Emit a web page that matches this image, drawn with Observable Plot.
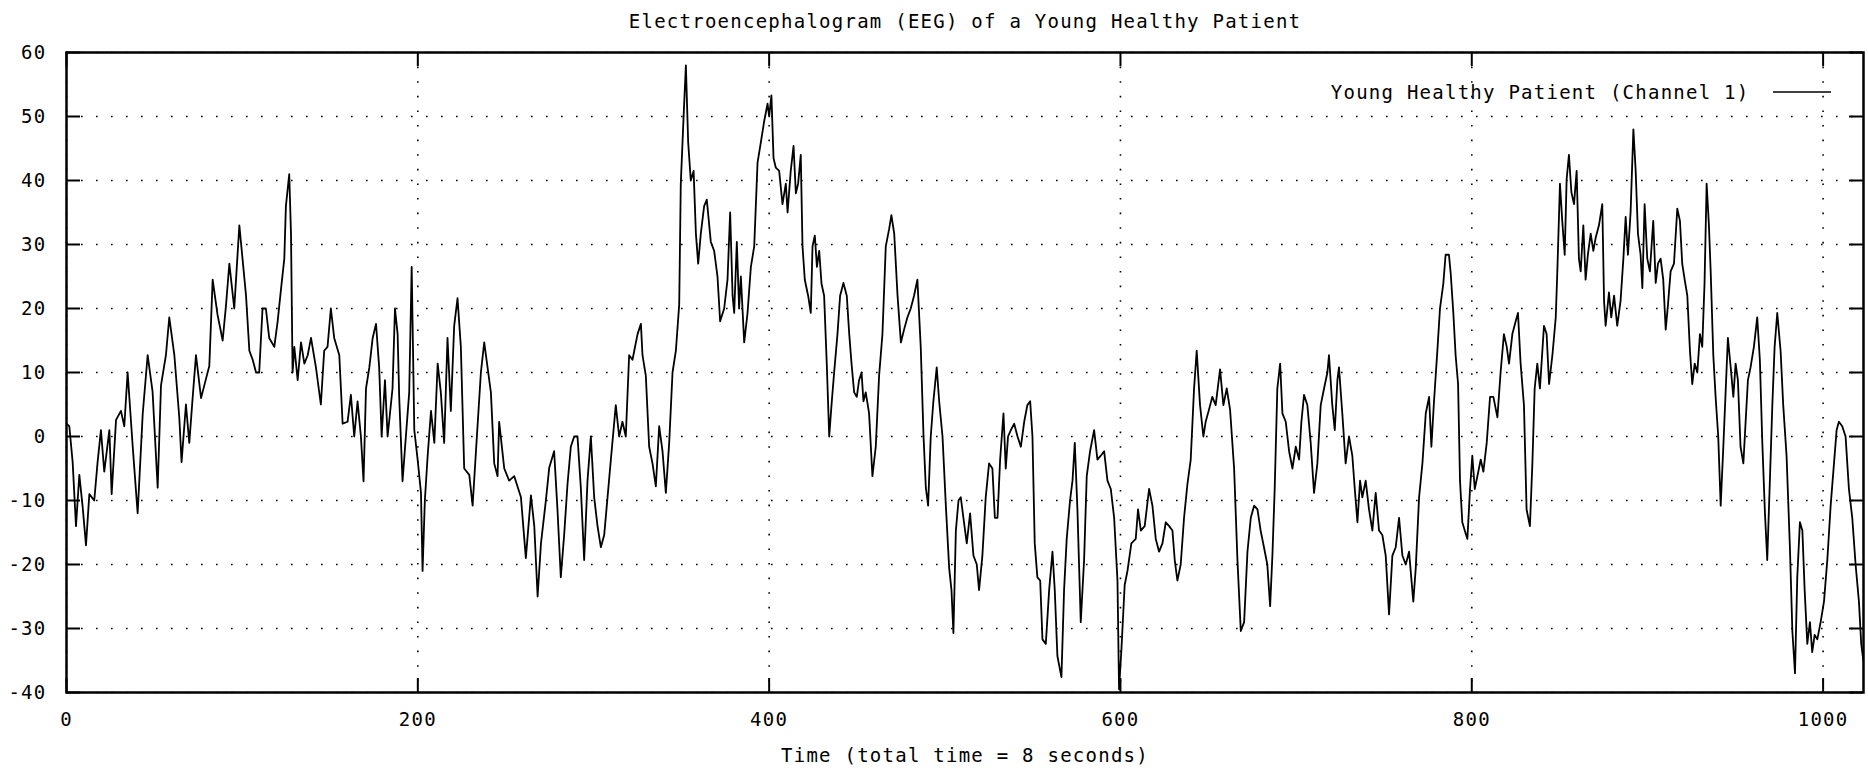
<!DOCTYPE html>
<html>
<head>
<meta charset="utf-8">
<script src="https://cdn.jsdelivr.net/npm/d3@7"></script>
<script src="https://cdn.jsdelivr.net/npm/@observablehq/plot@0.6"></script>
<style>
html, body { margin: 0; padding: 0; background: #ffffff; }
#chart svg { display: block; }
</style>
</head>
<body>
<div id="chart"></div>
<script>
const title = "Electroencephalogram (EEG) of a Young Healthy Patient";
const xLabel = "Time (total time = 8 seconds)";
const seriesName = "Young Healthy Patient (Channel 1)";
const xTicks = [0, 200, 400, 600, 800, 1000];
const yTicks = [-40, -30, -20, -10, 0, 10, 20, 30, 40, 50, 60];

const sampleIndex = [
0,1.6,3.5,5.4,7.3,9.2,11.1,13,15.8,17.7,19.6,21.5,24.4,25.7,28.2,31,32.9,34.8,37.7,40.5,43.4,46.2,49,51.9,53.8,56.6,58.5,61.4,64.2,65.5,68,69.9,71.8,73.7,76.6,79.4,81.3,83.2,86,88.9,90.8,92.7,95.5,98.4,
102.2,104.1,106,107.9,109.7,111.6,113.5,115.4,118.3,120.2,122.1,124,124.9,126.8,127.8,128.7,129.7,131.6,133.5,135.4,137.3,139.2,142,144.8,146.7,148.6,150.5,152.4,155.3,157.2,160,161.9,163.8,165.7,167.6,169.1,170.5,172.4,174.3,176.2,178,179.4,181.3,182.8,185.6,187,188.5,189.4,191.3,193.2,195.1,196.5,198,199.9,201.8,202.7,
204,205.6,207.5,209.4,211.3,213.1,215,216.9,218.8,220.7,222.6,224.5,226.4,229.3,231.2,233.1,235.9,237.8,239.7,241.6,243.5,245.4,246.3,249.2,252,254.9,258.7,261.5,264.4,266.3,268.2,270.1,272.9,274.8,277.6,279.5,281.4,283.3,285.2,287.1,289,290.9,292.8,294.7,296.6,298.5,300.4,302.3,304.2,
306.1,308,309.9,312.7,314.6,316.5,318.4,320.3,322.2,325.1,327,327.9,329.8,331.7,333.6,335.5,337.4,339.3,341.2,343.1,345,346.9,348.8,349.7,351.3,352.6,353.9,355.4,357,358.3,359.6,361.1,363,364.5,366.8,368.7,370.6,372.1,374.4,376.3,377.8,379.2,380.1,381.6,382.9,383.9,385.8,387.7,389.6,391.5,393.4,395.3,397.2,399.1,400,401.3,402.5,403.8,405.7,407.6,409.5,410.5,412.3,413.9,415.2,416.5,418,419,420.3,422.2,423.7,
424.7,426,427.2,428.5,429.8,431.3,432.8,434.2,435.5,437,438.9,440.4,442.3,444.2,445.6,446.9,448.4,449.9,451.2,452.6,453.7,455,456.9,458.8,460.7,462.6,464.5,466.4,468.3,469.6,471.2,473.1,475,476.8,478.7,480.6,482.5,484.4,486.3,487.9,489.2,490.5,492,493.5,495.4,496.8,498.7,500.6,502.5,503.8,504.9,506.3,507.8,509.1,510.6,512.5,514.4,516.3,518.2,519.5,521.4,523.3,525.2,527.1,528.5,530,531.5,533.4,534.7,536,537.6,539.5,541.4,543.3,
545.2,547,548.6,549.9,551.2,552.7,554.3,555.6,557.5,559.4,561.3,562.6,564.1,566.4,567.9,569.4,571.3,572.7,574,575.5,577.4,579.3,580.8,582.7,585,586.9,588.8,590.7,592.6,594.5,596.4,598.3,599.2,600.6,602.4,604,606.2,608.7,610,611.6,613.8,616.3,618.2,620.1,622,623.9,625.8,627.7,629.6,630.9,632.4,634.3,636.2,638.1,640,641.9,643.4,645.3,647.2,648.5,650.4,652.3,654.2,656.7,658.6,660.5,662.4,
664.7,666.6,668.5,670.4,672.3,674.2,676.1,678,679.8,681.7,683.6,685.2,686.5,687.8,689.3,690.9,692.2,694.1,696,697.9,699.8,701.7,703,704.5,706.4,708.3,710.2,712.1,714,715.9,717.8,718.7,720.6,722,723.5,724.4,726.3,728.2,730.1,732,733.4,734.9,736.4,737.7,739.6,741.5,743.4,745.3,747.2,749.1,751,752.9,754.8,756.7,758.6,760.5,762.4,764.3,766.7,768.1,770,771.9,773.8,775.7,777,778.5,780.4,781.9,
783.8,785.1,787,788,789.5,790.8,792.2,793.3,794.6,796,797.5,799,800.3,801.7,803.2,805.1,806.6,808.5,810.4,812.3,814.6,816.4,818.3,819.9,821.2,823.1,825,826.3,827.8,829.7,831.2,833.1,834.5,835.8,837.3,838.8,841.1,842.6,844,845.9,847.8,848.7,850.2,851.5,852.9,854,855.3,856.7,858.2,859.7,861,862,863.5,864.8,866.1,867.7,869.2,870.5,872.4,874.3,875.3,876.2,878.1,879.4,881,882.8,884.7,886.3,887.6,888.9,890.4,892,893.3,894.6,896.1,897.1,898.4,899.9,901.4,
903.3,904.7,906,907.5,909,910.4,911.7,913.2,915.1,917,918.5,919.8,921.2,922.7,924.2,925.5,926.9,928.4,929.9,931.2,932.5,933.7,935,936,937.5,938.8,940.3,941.7,943.2,944.5,945.8,947.4,948.9,950.2,951.5,953,954.6,955.9,957.2,958.7,960.6,962.5,964,965.4,966.9,968.2,969.7,971.1,972.4,973.9,975.8,977.3,979.2,981.1,982.5,984,985.3,986.8,988.2,989.5,991,992.5,993.8,995.2,996.7,998.6,1000.5,1002.4,1004.3,1006.2,1007.7,1009,1010.9,1012.8,1014.7,1016.6,1018.5,1020.4,1021.7,1022.9
];

const amplitude = [
2,1.6,-4,-14,-6,-11,-17,-9,-10,-4,1,-5.5,1,-9,2.6,4,1.6,10,-1.6,-12,3.6,12.7,7,-8,8,12.7,18.6,12.7,3,-4,5,-1,6,12.7,6,9,11,24.5,19,15,20.5,27,20,33,
22,13.4,12,10,10,20,20,15.4,14,18,23,27.8,36,41,31.7,10,14,8.8,14.7,11.4,12.7,15.4,10.8,5,13.4,14,20,15.4,12.7,2,2.3,6.5,0,5.5,0,-7,7.5,10.8,15.4,17.6,10.8,0,8.8,0,7.5,20,16,6.2,-7,0,6.9,26.5,1,-3.6,-8.8,-21,
-10,-3,4,-1,11.4,6.9,-1,15.4,4,17.3,21.6,14,-5,-6,-10.8,-2.3,10,14.7,10.8,6.9,-4.2,-6.2,2.3,-5,-6.9,-6.2,-9.5,-19,-9.2,-14,-25,-16.7,-10,-4.9,-2.3,-11.4,-22,-15.4,-7.5,-1.6,0,0,-8,-19.3,-6.9,0,-9.5,-14,-17.3,
-15.4,-9.5,-3.6,4.9,0,2.3,0,12.7,12,16,17.6,12.7,9.5,-1.6,-4.2,-7.8,1.6,-2.3,-8.8,-1,10,13.4,20.6,39.5,50,58,46,40,41.5,31.7,27,31.7,36,37,30.4,29,25,18,20,24.5,35,22,19.3,30.4,20,25,14.7,19.3,26.5,29.7,42.8,46,49.3,52,50,53.3,43.5,42,41.5,36.3,39.5,35,41.5,45.4,38,39.5,44,29.7,24.5,22,19.3,
29.7,31.4,26.5,29,23.9,22,11.4,0,4.9,10,16,22,24,22,16,11.4,6.9,6.2,8.8,10,5.5,6.9,3.6,-6.2,-1.6,9.5,16,29.7,32.4,34.6,31.7,22,14.7,16.7,18.6,20,22,24.5,14,0,-8,-10.8,0,5.5,10.8,5.5,0,-10.8,-20.6,-24,-30.7,-14.7,-10,-9.5,-12.7,-16.7,-12,-18.6,-20,-24,-18.6,-9.5,-4.2,-5,-12.7,-12.7,-3.6,3.6,-5,0,1,2,0,-1.6,
2.3,4.9,5.5,0,-16.7,-22,-22.5,-31.7,-32.4,-24,-18,-24,-34.3,-37.6,-24,-16,-10,-6.9,-1,-11.4,-29,-19.3,-6.2,-2.3,1,-3.6,-3,-2.3,-6.9,-8.2,-12.7,-22.5,-39.5,-33,-23.2,-21,-16.7,-16,-11.4,-14.7,-14,-8.2,-10.8,-16,-18,-16.7,-13.4,-14,-14.7,-19.3,-22.5,-20,-12.7,-7.5,-3.6,7.5,13.4,4.9,0,2.3,4.2,6.2,4.9,10.5,4.9,7.5,4.2,
-5,-19.3,-30.4,-29,-18,-12.7,-10.8,-11.4,-14.7,-17.3,-20,-26.5,-18.6,-8.2,7.5,11.4,3.6,2.3,-2.3,-5,-1.6,-3.6,2.3,6.5,4.9,-1,-8.8,-4.2,4.9,7.5,10,12.7,4.9,1,8.8,10.8,3.6,-4.2,0,-3,-8.2,-13.4,-6.9,-9.5,-6.9,-11.4,-14.7,-8.8,-14.7,-15.4,-18.6,-27.8,-18.6,-17.3,-12.7,-18.6,-20,-18,-25.8,-20.6,-9.5,-4.2,3.6,6.2,-1.6,5.5,13.4,20,
23.9,28.4,28.4,25.5,19.3,12.7,8.2,-6.9,-13.4,-14.7,-16,-8.2,-3,-8.2,-6.2,-3.6,-5.5,-1,6.2,6.2,3,10,16,14,11.4,16,18,19.3,11.4,4.9,-11.4,-14,-4.2,7.5,11.4,7.5,17.3,16,8.2,12.7,18.6,25.8,39.5,33.7,28.4,40.2,44,38.2,36.3,41.5,27.8,25.8,33,24.5,28.4,31.7,29,31,33,36.3,21.2,17.3,22.5,18.6,22,17.3,21.2,27.8,34.3,28.4,35,48,41.5,31.7,28.4,23.2,36.3,27.8,25.8,
33.7,24,27,27.8,24.5,16.7,20.6,25.8,27,35.6,33.7,27,24.5,22,13.4,8.2,11.4,10,16,14,23.9,39.5,33,25.8,12.7,6.2,0,-10.8,-1.6,6.9,15.4,10.8,6.2,11.4,8.8,-1.6,-4.2,2.3,8.8,10.8,14,18.6,12,-1,-12,-19.3,-6.9,4.9,14,19.3,13.4,4.9,-3,-17.3,-30.4,-37,-22,-13.4,-14.7,-24,-32.4,-29,-33.7,-31,-31.7,-29,-25.8,-19.3,-10.8,-4.2,1,2.3,1.6,0,-8.2,-12.7,-20,-25.8,-32.4,-35
];

const data = sampleIndex.map((t, i) => ({t, v: amplitude[i]}));
const font = "'DejaVu Sans Mono', 'Liberation Mono', monospace";
const fmt = d => String(d);

const W = 1868, H = 768, mL = 66, mR = 5, mT = 52, mB = 76;
const plotW = W - mL - mR, plotH = H - mT - mB;
const tickLen = 14;

const chart = Plot.plot({
  width: W,
  height: H,
  marginLeft: mL,
  marginRight: mR,
  marginTop: mT,
  marginBottom: mB,
  style: {fontFamily: font, fontSize: "19px", color: "black", background: "white", letterSpacing: "1.25px"},
  x: {domain: [0, 1023]},
  y: {domain: [-40, 60]},
  marks: [
    Plot.gridX(xTicks, {stroke: "black", strokeOpacity: 1, strokeWidth: 1.6, strokeDasharray: "1.6,13"}),
    Plot.gridY(yTicks, {stroke: "black", strokeOpacity: 1, strokeWidth: 1.6, strokeDasharray: "1.6,13.4"}),
    Plot.axisX(xTicks, {anchor: "bottom", tickSize: 0, tickPadding: 20, tickFormat: fmt, label: null}),
    Plot.axisY(yTicks, {anchor: "left", tickSize: 0, tickPadding: 20, tickFormat: fmt, label: null}),
    // inward major ticks on all four sides (gnuplot mirror style)
    Plot.ruleY(yTicks, {stroke: "black", strokeWidth: 2, insetRight: plotW - tickLen}),
    Plot.ruleY(yTicks, {stroke: "black", strokeWidth: 2, insetLeft: plotW - tickLen}),
    Plot.ruleX(xTicks, {stroke: "black", strokeWidth: 2, insetTop: plotH - tickLen}),
    Plot.ruleX(xTicks, {stroke: "black", strokeWidth: 2, insetBottom: plotH - tickLen}),
    Plot.line(data, {x: "t", y: "v", stroke: "black", strokeWidth: 1.8}),
    Plot.frame({stroke: "black", strokeWidth: 2.5}),
    Plot.text([title], {text: d => d, frameAnchor: "top", dy: -31, lineAnchor: "middle"}),
    Plot.text([xLabel], {text: d => d, frameAnchor: "bottom", dy: 63, lineAnchor: "middle"}),
    Plot.text([seriesName], {text: d => d, frameAnchor: "top-right", dx: -114, dy: 40, lineAnchor: "middle", textAnchor: "end"})
  ]
});

d3.select(chart).append("line")
  .attr("x1", 1773).attr("x2", 1831)
  .attr("y1", 92).attr("y2", 92)
  .attr("stroke", "black").attr("stroke-width", 1.5);

document.getElementById("chart").appendChild(chart);
</script>
</body>
</html>
